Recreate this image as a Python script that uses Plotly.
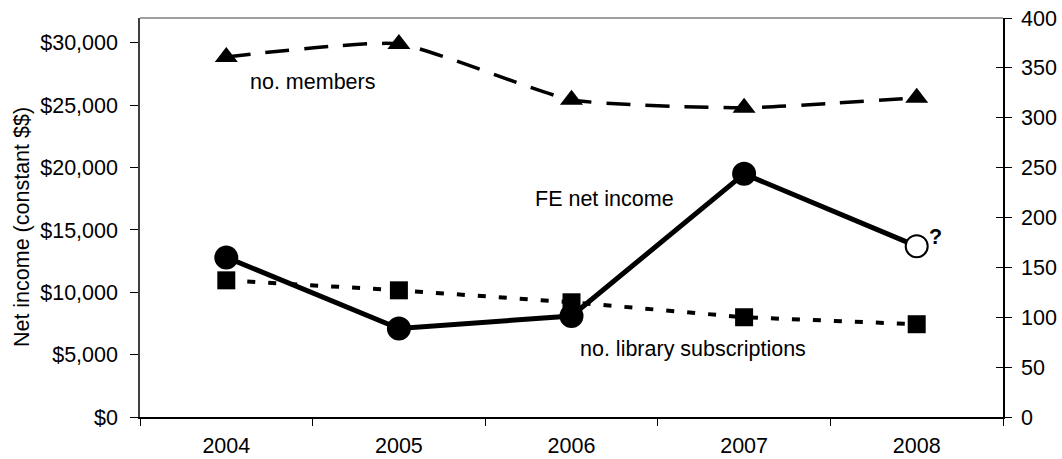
import plotly.graph_objects as go

years = ["2004", "2005", "2006", "2007", "2008"]
fe_net_income = [12800, 7100, 8100, 19500, 13700]
no_members = [361, 374, 318, 310, 320]
no_library_subs = [137, 127, 115, 100, 93]

FONT = "Liberation Sans, Arial, sans-serif"
FS = 21.5

fig = go.Figure()

# members (right axis, smoothed dashed line with triangles)
fig.add_trace(go.Scatter(
    x=years, y=no_members, yaxis="y", mode="lines+markers",
    line=dict(color="black", width=3.5, dash="24px,15px", shape="spline",
              smoothing=0.5),
    marker=dict(symbol="triangle-up", size=20, color="black"),
    showlegend=False, name="no. members"))

# library subscriptions (right axis, short dashes with squares)
fig.add_trace(go.Scatter(
    x=years, y=no_library_subs, yaxis="y", mode="lines+markers",
    line=dict(color="black", width=4, dash="8px,13px"),
    marker=dict(symbol="square", size=18, color="black"),
    showlegend=False, name="no. library subscriptions"))

# FE net income (left axis, solid line with circles; last one open)
fill = ["black"] * (len(years) - 1) + ["white"]
fig.add_trace(go.Scatter(
    x=years, y=fe_net_income, yaxis="y2", mode="lines+markers",
    line=dict(color="black", width=5),
    marker=dict(symbol="circle", size=22, color=fill,
                line=dict(color="black", width=2)),
    showlegend=False, name="FE net income"))

# invisible trace so the inner-tick right axis renders
fig.add_trace(go.Scatter(x=years, y=no_members, yaxis="y3", mode="lines",
                         line=dict(width=0), hoverinfo="skip",
                         showlegend=False, opacity=0))

fig.update_layout(
    width=1062, height=459,
    margin=dict(l=140, r=59, t=18, b=42),
    paper_bgcolor="white", plot_bgcolor="white",
    font=dict(family=FONT, size=FS, color="black"),
    xaxis=dict(type="category", tickson="boundaries", ticks="outside",
               ticklen=7, tickcolor="black", showline=True, linecolor="black",
               linewidth=1.5, showgrid=False, zeroline=False,
               range=[-0.5, 4.5], tickfont=dict(size=FS), automargin=False,
               ticklabelstandoff=8),
    yaxis=dict(side="right", range=[0, 400], dtick=50, tick0=0,
               ticks="outside", ticklen=7, tickcolor="black",
               showline=True, linecolor="black", linewidth=1.5,
               showgrid=False, zeroline=False, anchor="x",
               tickfont=dict(size=FS), automargin=False,
               ticklabelstandoff=5),
    yaxis2=dict(side="left", overlaying="y", range=[0, 32000],
                tickvals=[0, 5000, 10000, 15000, 20000, 25000, 30000],
                tickformat="$,.0f", ticks="outside", ticklen=8,
                tickcolor="black", showline=True, linecolor="#404040",
                linewidth=1.5, showgrid=False, zeroline=False, anchor="x",
                tickfont=dict(size=FS), automargin=False,
                ticklabelstandoff=8),
    yaxis3=dict(side="right", overlaying="y", range=[0, 400], dtick=50,
                tick0=0, ticks="inside", ticklen=7, tickcolor="black",
                showticklabels=False, showline=False, showgrid=False,
                zeroline=False, anchor="x", automargin=False),
    shapes=[dict(type="line", xref="paper", yref="paper", x0=0, x1=1,
                 y0=1, y1=1, line=dict(color="#808080", width=1.5))],
    annotations=[
        dict(text="no. members", x=0.5, xref="x", y=0.8396, yref="paper",
             showarrow=False, xanchor="center", yanchor="middle"),
        dict(text="FE net income", x=2.194, xref="x", y=0.546, yref="paper",
             showarrow=False, xanchor="center", yanchor="middle"),
        dict(text="no. library subscriptions", x=2.704, xref="x", y=0.170,
             yref="paper", showarrow=False, xanchor="center", yanchor="middle"),
        dict(text="<b>?</b>", x=4.109, xref="x", y=0.452, yref="paper",
             showarrow=False, xanchor="center", yanchor="middle"),
        dict(text="Net income (constant $$)", x=-0.1367, xref="paper",
             y=0.476, yref="paper", textangle=-90, showarrow=False,
             xanchor="center", yanchor="middle"),
    ],
)

fig.write_html("out.html", config={"displayModeBar": False},
               post_script="document.body.style.margin='0';")
